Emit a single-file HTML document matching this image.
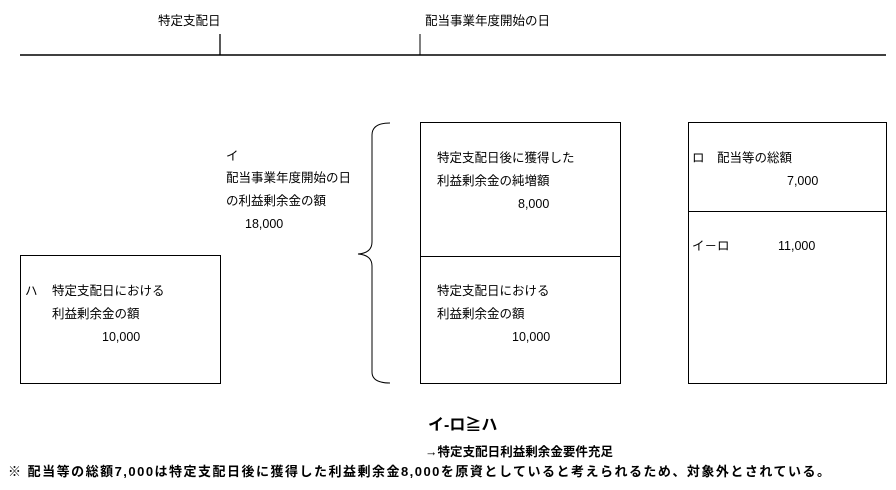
<!DOCTYPE html>
<html><head><meta charset="utf-8"><style>body{margin:0;background:#fff}svg{display:block}</style></head><body>
<svg width="896" height="490" xmlns="http://www.w3.org/2000/svg" font-family="'Liberation Sans','Noto Sans CJK JP',sans-serif" font-size="12.5" fill="#000">
<line x1="20" y1="55" x2="886" y2="55" stroke="#000" stroke-width="1.5"/>
<line x1="220" y1="34" x2="220" y2="55" stroke="#000" stroke-width="1.3"/>
<line x1="420" y1="34" x2="420" y2="55" stroke="#000" stroke-width="1"/>
<text x="158" y="25">特定支配日</text>
<text x="425" y="25">配当事業年度開始の日</text>
<g fill="none" stroke="#000" stroke-width="1">
<rect x="20.5" y="255.5" width="200" height="128"/>
<rect x="420.5" y="122.5" width="200" height="261"/>
<line x1="420" y1="256.5" x2="620" y2="256.5"/>
<rect x="688.5" y="122.5" width="198" height="261"/>
<line x1="688" y1="211.5" x2="886" y2="211.5"/>
<path d="M390 123 Q372 123 372 135 L372 242 Q372 253 358 254 Q372 255 372 266 L372 372 Q372 383 390 383"/>
</g>
<text x="226" y="160">イ</text>
<text x="226" y="182">配当事業年度開始の日</text>
<text x="226" y="205">の利益剰余金の額</text>
<text x="245" y="228">18,000</text>
<text x="437" y="162">特定支配日後に獲得した</text>
<text x="437" y="185">利益剰余金の純増額</text>
<text x="518" y="208">8,000</text>
<text x="437" y="295">特定支配日における</text>
<text x="437" y="318">利益剰余金の額</text>
<text x="512" y="341">10,000</text>
<text x="25" y="295">ハ</text>
<text x="52" y="295">特定支配日における</text>
<text x="52" y="318">利益剰余金の額</text>
<text x="102" y="341">10,000</text>
<text x="692" y="162">ロ</text>
<text x="717" y="162">配当等の総額</text>
<text x="787" y="185">7,000</text>
<text x="692" y="250">イ－ロ</text>
<text x="778" y="250">11,000</text>
<text x="428" y="430" font-size="16" font-weight="bold">イ-ロ≧ハ</text>
<text x="425" y="456" font-size="12.5" font-weight="bold" textLength="188">→特定支配日利益剰余金要件充足</text>
<text x="8" y="476" font-size="13" font-weight="bold" textLength="822">※ 配当等の総額7,000は特定支配日後に獲得した利益剰余金8,000を原資としていると考えられるため、対象外とされている。</text>
</svg>
</body></html>
